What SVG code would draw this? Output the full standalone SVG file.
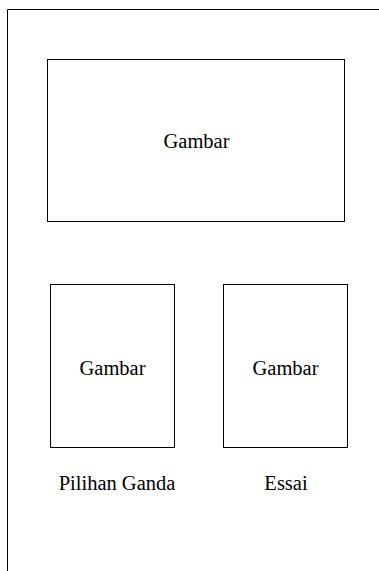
<svg xmlns="http://www.w3.org/2000/svg" width="379" height="571" viewBox="0 0 379 571">
<style>
.box{fill:#fff;stroke:#000;stroke-width:1}
.frame{fill:none;stroke:#000;stroke-width:1}
text{font-family:"Liberation Serif","Times New Roman",serif;font-size:20.5px;fill:#000;text-anchor:middle}
</style>
<rect width="379" height="571" fill="#fff"/>
<g id="frame"><path class="frame" d="M7.5 571 V9.5 H379"/></g>
<g id="main-image"><rect class="box" x="47.5" y="59.5" width="297" height="162"/><text x="196.5" y="148">Gambar</text></g>
<g id="pg-image"><rect class="box" x="50.5" y="284.5" width="124" height="163"/><text x="112.5" y="375">Gambar</text></g>
<g id="essai-image"><rect class="box" x="223.5" y="284.5" width="124" height="163"/><text x="285.5" y="375">Gambar</text></g>
<g id="pg-label"><text x="117" y="490">Pilihan Ganda</text></g>
<g id="essai-label"><text x="286" y="490">Essai</text></g>
<g id="connectors"/>
</svg>
